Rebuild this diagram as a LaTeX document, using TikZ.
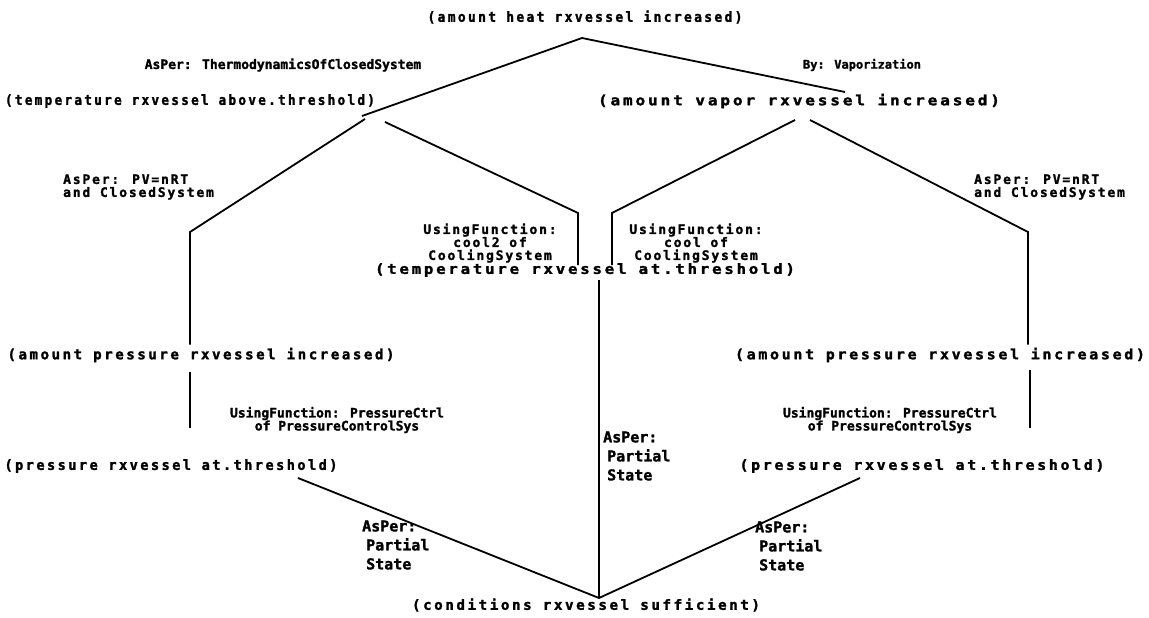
\documentclass[tikz,border=0pt]{standalone}
\usepackage{fontspec}
\usepackage{graphicx}
\newfontfamily\dotfont{DejaVu Sans Mono}[BoldFeatures={FakeBold=1.6}]
\newfontfamily\dotwide{DejaVu Sans Mono}[BoldFeatures={FakeBold=1.8,LetterSpace=18}]
\newfontfamily\dotnote{DejaVu Sans Mono}[BoldFeatures={FakeBold=1.6,LetterSpace=14}]
\tikzset{
  state/.style={font=\dotwide\bfseries\fontsize{14}{16}\selectfont, inner sep=0pt},
  note/.style={font=\dotfont\bfseries\fontsize{13}{13}\selectfont, inner sep=0pt, align=left},
  widenote/.style={note, font=\dotnote\bfseries\fontsize{13}{13}\selectfont},
  bignote/.style={note, font=\dotfont\bfseries\fontsize{15}{19}\selectfont},
  link/.style={line width=1.8pt, black},
}
% squeeze or stretch a line of text to a given width, keeping its height
\newcommand{\fitto}[2]{\resizebox{#1pt}{\height}{#2}}
\begin{document}
\begin{tikzpicture}[x=1pt,y=-1pt]
\fill[white] (0,0) rectangle (1149,618);
\useasboundingbox (0,0) rectangle (1149,618);

% states
\node[state] (top) at (585,17)  {\fitto{315}{(amount heat rxvessel increased)}};
\node[state] (tl)  at (190,101) {\fitto{370}{(temperature rxvessel above.threshold)}};
\node[state] (vr)  at (799,101) {\fitto{402}{(amount vapor rxvessel increased)}};
\node[state] (tc)  at (585,270) {\fitto{420}{(temperature rxvessel at.threshold)}};
\node[state] (pl)  at (201,355) {\fitto{387}{(amount pressure rxvessel increased)}};
\node[state] (pr)  at (940,355) {\fitto{410}{(amount pressure rxvessel increased)}};
\node[state] (ql)  at (171,466) {\fitto{333}{(pressure rxvessel at.threshold)}};
\node[state] (qr)  at (922,466) {\fitto{365}{(pressure rxvessel at.threshold)}};
\node[state] (cs)  at (586,605) {\fitto{348}{(conditions rxvessel sufficient)}};

% bends and loose ends of the links
\coordinate (apex) at (582,38);
\coordinate (tlIn) at (362,116);
\coordinate (vrIn) at (845,92);
\coordinate (tlOutA) at (365,119);
\coordinate (tlOutB) at (385,122);
\coordinate (bendL) at (190,232);
\coordinate (bendCL) at (578,213);
\coordinate (vrOutA) at (795,120);
\coordinate (vrOutB) at (810,120);
\coordinate (bendCR) at (612,213);
\coordinate (bendR) at (1028,232);
\coordinate (foot) at (599,598);
\coordinate (qlOut) at (298,478);
\coordinate (qrOut) at (860,478);
\coordinate (barLtop) at (190,372);
\coordinate (barLbot) at (190,428);
\coordinate (barRtop) at (1030,370);
\coordinate (barRbot) at (1030,428);

% links
\draw[link] (tlIn) -- (apex) -- (vrIn);
\draw[link] (tlOutA) -- (bendL) -- ([yshift=3pt]bendL |- pl.north);
\draw[link] (tlOutB) -- (bendCL) -- ([yshift=-2pt]bendCL |- tc.north);
\draw[link] (vrOutA) -- (bendCR) -- ([yshift=-2pt]bendCR |- tc.north);
\draw[link] (vrOutB) -- (bendR) -- ([yshift=3pt]bendR |- pr.north);
\draw[link] ([yshift=-3pt]tc.south -| foot) -- (foot);
\draw[link] (barLtop) -- (barLbot);
\draw[link] (barRtop) -- (barRbot);
\draw[link] (qlOut) -- (foot) -- (qrOut);

% link notes
\node[note] (n1) at (283,65) {AsPer: ThermodynamicsOfClosedSystem};
\node[note, font=\dotfont\bfseries\fontsize{12}{13}\selectfont] (n2) at (862,65) {By: Vaporization};
\node[widenote, anchor=west] (n3) at (63,187) {AsPer: PV=nRT\\and ClosedSystem};
\node[widenote, anchor=west] (n4) at (974,187) {AsPer: PV=nRT\\and ClosedSystem};
\node[widenote, align=center] (n5) at (490,243) {UsingFunction:\\cool2 of\\CoolingSystem};
\node[widenote, align=center] (n6) at (696,243) {UsingFunction:\\cool of\\CoolingSystem};
\node[note, align=center] (n7) at (337,420) {UsingFunction: PressureCtrl\\of PressureControlSys};
\node[note, align=center] (n8) at (890,420) {UsingFunction: PressureCtrl\\of PressureControlSys};
\node[bignote, anchor=west] (n9) at (603,456) {AsPer:\\\hspace{4pt}Partial\\\hspace{4pt}State};
\node[bignote, anchor=west] (n10) at (362,545) {AsPer:\\\hspace{4pt}Partial\\\hspace{4pt}State};
\node[bignote, anchor=west] (n11) at (755,546) {AsPer:\\\hspace{4pt}Partial\\\hspace{4pt}State};
\end{tikzpicture}
\end{document}
